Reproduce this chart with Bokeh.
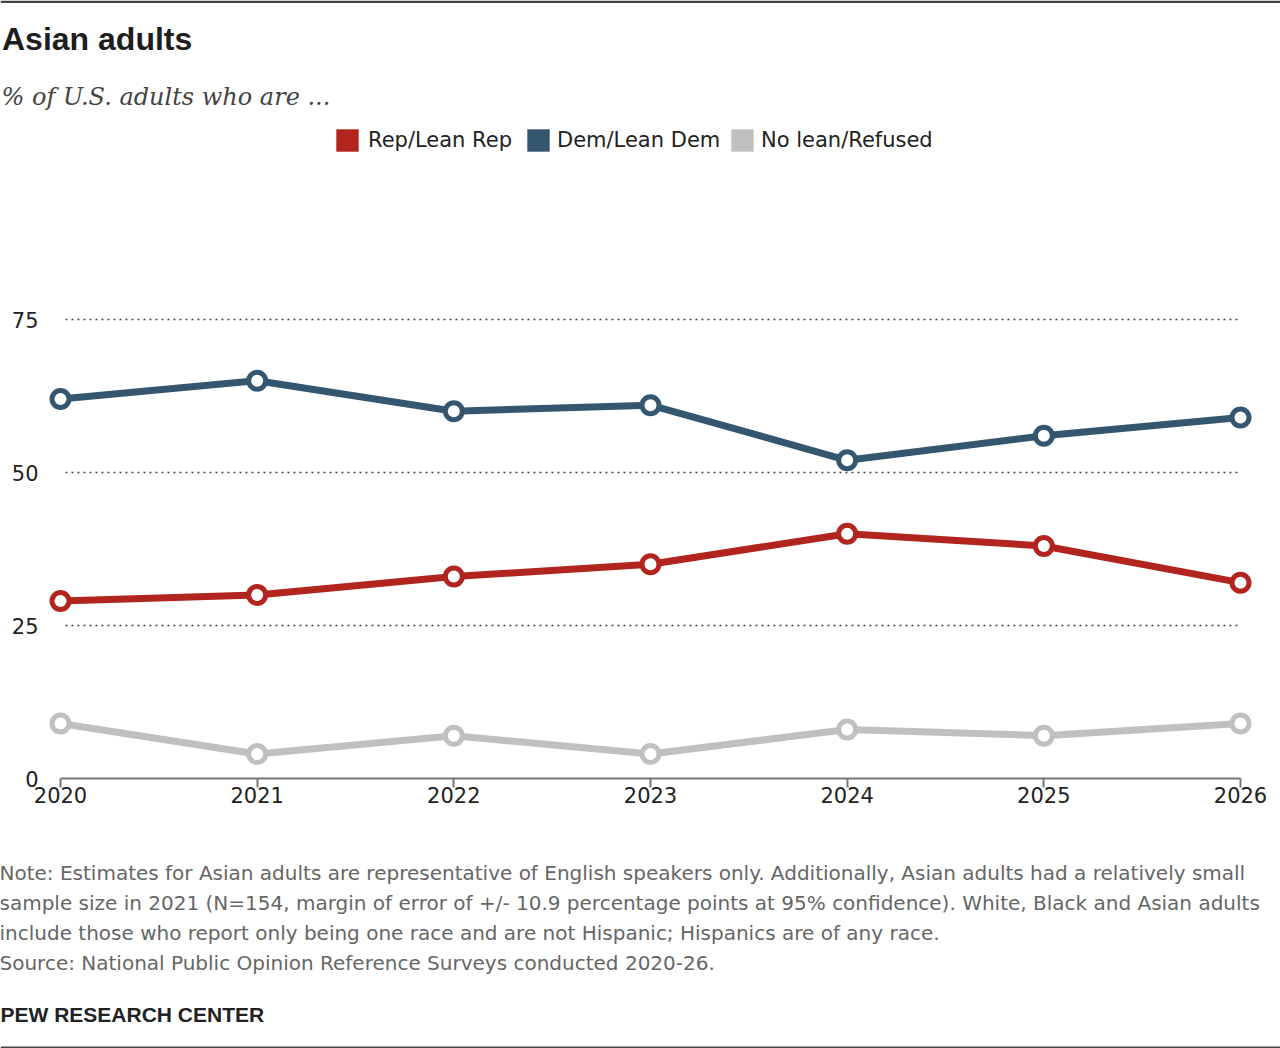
from bokeh.plotting import figure
from bokeh.layouts import column
from bokeh.models import (Range1d, FixedTicker, Label, Legend, LegendItem,
                          Span, ColumnDataSource)
from bokeh.core.properties import value
from bokeh.embed import file_html
from bokeh.resources import INLINE

# ---------------- data ----------------
years = [2020, 2021, 2022, 2023, 2024, 2025, 2026]
rep = [29, 30, 33, 35, 40, 38, 32]
dem = [62, 65, 60, 61, 52, 56, 59]
nolean = [9, 4, 7, 4, 8, 7, 9]
series_names = ["Rep/Lean Rep", "Dem/Lean Dem", "No lean/Refused"]
y_ticks = [0, 25, 50, 75]
grid_ticks = [25, 50, 75]

title_text = "Asian adults"
subtitle_text = "% of U.S. adults who are ..."
note_lines = [
    "Note: Estimates for Asian adults are representative of English speakers only. Additionally, Asian adults had a relatively small",
    "sample size in 2021 (N=154, margin of error of +/- 10.9 percentage points at 95% confidence). White, Black and Asian adults",
    "include those who report only being one race and are not Hispanic; Hispanics are of any race.",
    "Source: National Public Opinion Reference Surveys conducted 2020-26.",
]
footer_text = "PEW RESEARCH CENTER"

# ---------------- style ----------------
REP = "#B2241E"
DEM = "#34566F"
NOL = "#C0C0C0"
colors = [REP, DEM, NOL]
AXIS_FONT = "DejaVu Sans"
BASE_SHIFT = 0.39      # Label alphabetic-baseline correction (x font size)

W = 1280
HEAD_H = 115           # canvas 0..115
MAIN_TOP, MAIN_BOT = 115, 860
FOOT_H = 1048 - MAIN_BOT
AX_PANEL = 35          # height reserved below the main frame
FRAME_BOT = MAIN_BOT - AX_PANEL
Y0_PX = 778            # canvas y of value 0
PX_YEAR = (1240 - 60) / 6.0
PX_UNIT = (778 - 319) / 75.0


def blank_fig(h, y_top):
    f = figure(width=W, height=h, x_range=Range1d(0, W), y_range=Range1d(y_top + h, y_top),
               x_axis_type=None, y_axis_type=None, toolbar_location=None,
               output_backend="svg", title=None, min_border=0)
    f.outline_line_color = None
    f.grid.visible = False
    return f


def add_text(f, txt, cx, baseline_y, font, size, color, style="normal"):
    f.add_layout(Label(x=cx, y=baseline_y - BASE_SHIFT * size, text=txt, text_font=font,
                       text_font_size=f"{size}px", text_color=color,
                       text_font_style=style, text_baseline="alphabetic",
                       text_align="left"))


# ---------------- header ----------------
head = blank_fig(HEAD_H, 0)
head.add_layout(Span(location=1.25, dimension="width", line_color="#444444", line_width=2.5))
add_text(head, title_text, 1.5, 51, "Liberation Sans", 32, "#1e1e1e", "bold")
add_text(head, subtitle_text, 1, 106, "DejaVu Serif", 24, "#444444", "italic")

# ---------------- main chart ----------------
x0 = 2020 - 60 / PX_YEAR
x1 = 2026 + (W - 1240) / PX_YEAR
y_lo = -(FRAME_BOT - Y0_PX) / PX_UNIT
y_hi = (Y0_PX - MAIN_TOP) / PX_UNIT

p = figure(width=W, height=MAIN_BOT - MAIN_TOP, x_range=Range1d(x0, x1),
           y_range=Range1d(y_lo, y_hi),
           min_border_left=0, min_border_right=0, min_border_top=0,
           min_border_bottom=AX_PANEL, toolbar_location=None, output_backend="svg",
           title=None, y_axis_location=None)
p.outline_line_color = None
p.grid.visible = False

xa = p.xaxis[0]
xa.fixed_location = 0
xa.ticker = FixedTicker(ticks=years)
xa.bounds = (years[0], years[-1])
xa.axis_line_color = "#777777"
xa.axis_line_width = 2
xa.major_tick_line_color = "#777777"
xa.major_tick_line_width = 2
xa.major_tick_out = 9
xa.major_tick_in = 0
xa.minor_tick_line_color = None
xa.major_label_text_font = AXIS_FONT
xa.major_label_text_font_size = "21px"
xa.major_label_text_color = "#222222"
xa.major_label_standoff = -1
xa.major_label_overrides = {y: str(y) for y in years}

# dotted horizontal gridlines at the value ticks, from just right of the labels to 2026
grid_x0 = 2020 + 5 / PX_YEAR
p.segment(x0=[grid_x0] * len(grid_ticks), y0=grid_ticks,
          x1=[years[-1]] * len(grid_ticks), y1=grid_ticks,
          line_color="#444444", line_dash="2 4", line_width=1.5)

# value-axis tick labels, right-aligned just left of the first year
ylab_x = x0 + 38 / PX_YEAR
p.text(x=[ylab_x] * len(y_ticks), y=y_ticks, text=[str(t) for t in y_ticks],
       text_font=value(AXIS_FONT), text_font_size="21px", text_color="#222222",
       text_align="right", text_baseline="middle")

swatches = []
for vals, c in zip([rep, dem, nolean], colors):
    src = ColumnDataSource(dict(x=years, y=vals))
    p.line("x", "y", source=src, line_color=c, line_width=7, line_join="round")
    p.scatter("x", "y", source=src, marker="circle", size=17, fill_color="white",
              line_color=c, line_width=5)
    # zero-width bars: invisible in the plot, give the legend its square swatch
    swatches.append(p.vbar(x="x", top="y", width=0, source=src,
                           fill_color=c, line_color=None))

# one legend per entry so each swatch sits where the original has it
GW = 28
sw_centers = [347, 538, 742]
for name, r, cx in zip(series_names, swatches, sw_centers):
    lg = Legend(items=[LegendItem(label=name, renderers=[r])],
                location=(cx - GW / 2, FRAME_BOT - (140 + GW / 2)),
                glyph_width=GW, glyph_height=GW, label_height=GW,
                label_standoff=7 if cx == sw_centers[0] else 5,
                spacing=0, padding=0, margin=0,
                border_line_color=None, background_fill_alpha=0,
                label_text_font=AXIS_FONT, label_text_font_size="21px",
                label_text_color="#222222")
    p.add_layout(lg)

# ---------------- footer ----------------
foot = blank_fig(FOOT_H, MAIN_BOT)
for i, line in enumerate(note_lines):
    add_text(foot, line, -1, 880 + 30 * i, "DejaVu Sans", 20, "#666666")
add_text(foot, footer_text, 0, 1022, "Liberation Sans", 21, "#222222", "bold")
foot.add_layout(Span(location=1047, dimension="width", line_color="#444444", line_width=2))

layout = column(head, p, foot, spacing=0)
open("out.html", "w").write(file_html(layout, INLINE))
